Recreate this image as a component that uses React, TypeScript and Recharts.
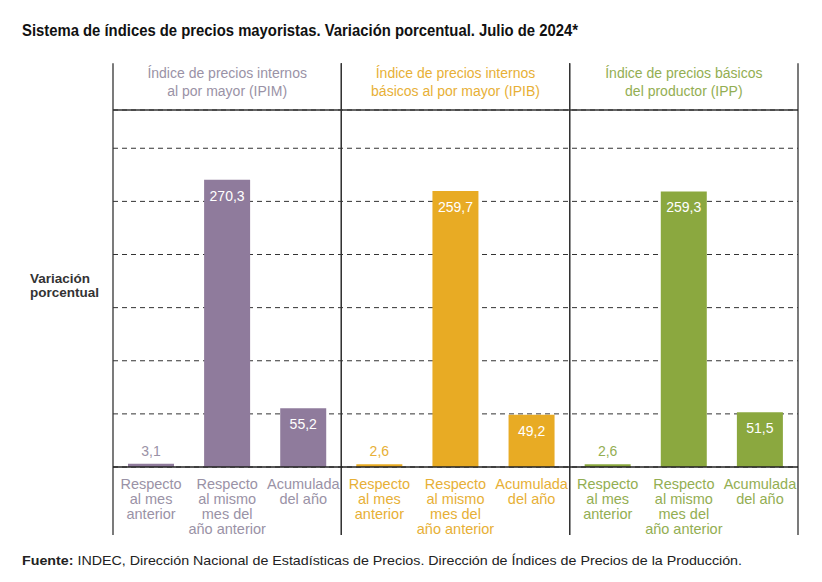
import { BarChart, Bar, XAxis, YAxis, CartesianGrid, Cell, LabelList, ReferenceLine, ReferenceArea } from 'recharts';

const PANELS = ['IPIM', 'IPIB', 'IPP'];
const PANEL_TITLES = [
  ['Índice de precios internos', 'al por mayor (IPIM)'],
  ['Índice de precios internos', 'básicos al por mayor (IPIB)'],
  ['Índice de precios básicos', 'del productor (IPP)'],
];
const MEASURES = [
  ['Respecto', 'al mes', 'anterior'],
  ['Respecto', 'al mismo', 'mes del', 'año anterior'],
  ['Acumulada', 'del año'],
];
const IPIM_VALUES = [3.1, 270.3, 55.2];
const IPIB_VALUES = [2.6, 259.7, 49.2];
const IPP_VALUES = [2.6, 259.3, 51.5];
const Y_TICKS = [0, 50, 100, 150, 200, 250, 300];

const BAR_COLORS = ['#8f7b9c', '#e8ab24', '#8ba83f'];
const TEXT_COLORS = ['#9a92a6', '#e7b036', '#93ae52'];
const FONT = "'Liberation Sans', Arial, Helvetica, sans-serif";

const SERIES = [IPIM_VALUES, IPIB_VALUES, IPP_VALUES];
const data = PANELS.flatMap((p, pi) =>
  SERIES[pi].map((v, mi) => ({ key: `${p}-${mi}`, panel: pi, measure: mi, value: v }))
);
const fmt = (v: number) => v.toFixed(1).replace('.', ',');

function MeasureTick({ x, y, payload }: any) {
  const row = data.find((d) => d.key === payload.value);
  if (!row) return null;
  return (
    <text x={x} y={y} textAnchor="middle" fill={TEXT_COLORS[row.panel]} fontFamily={FONT} fontSize={14.5}>
      {MEASURES[row.measure].map((line, i) => (
        <tspan key={i} x={x} y={y + 14 + i * 15}>{line}</tspan>
      ))}
    </text>
  );
}

function ValueLabel({ x, y, width, value, index }: any) {
  const row = data[index];
  const small = value < 20;
  return (
    <text
      x={x + width / 2}
      y={small ? y - 13 : y + 16}
      textAnchor="middle"
      dominantBaseline="central"
      fill={small ? TEXT_COLORS[row.panel] : '#ffffff'}
      fontFamily={FONT}
      fontSize={14}
    >
      {fmt(value)}
    </text>
  );
}

function PanelFrame({ x, y, width, height, idx }: any) {
  return (
    <g>
      <line x1={x} x2={x} y1={y} y2={y + height} stroke="#333" strokeWidth={1.3} />
      <line x1={x + width} x2={x + width} y1={y} y2={y + height} stroke="#333" strokeWidth={1.3} />
      <text textAnchor="middle" fill={TEXT_COLORS[idx]} fontFamily={FONT} fontSize={14}>
        {PANEL_TITLES[idx].map((line, i) => (
          <tspan key={i} x={x + width / 2} y={y + 15 + i * 18}>{line}</tspan>
        ))}
      </text>
    </g>
  );
}

export default function App() {
  return (
    <div style={{ position: 'absolute', left: 0, top: 0, width: 822, height: 582, background: '#fff' }}>
      <svg width={822} height={582} style={{ position: 'absolute', left: 0, top: 0 }}>
        <text x={22} y={35.5} fontFamily={FONT} fontWeight="bold" fontSize={16} fill="#111" textLength={556} lengthAdjust="spacingAndGlyphs">
          Sistema de índices de precios mayoristas. Variación porcentual. Julio de 2024*
        </text>
        <text x={22} y={565} fontFamily={FONT} fontSize={13} fill="#222" textLength={720} lengthAdjust="spacingAndGlyphs">
          <tspan fontWeight="bold">Fuente:</tspan> INDEC, Dirección Nacional de Estadísticas de Precios. Dirección de Índices de Precios de la Producción.
        </text>
        <text fontFamily={FONT} fontWeight="bold" fontSize={13.5} fill="#333">
          <tspan x={30} y={282.5}>Variación</tspan>
          <tspan x={30} y={297}>porcentual</tspan>
        </text>
      </svg>
      <div style={{ position: 'absolute', left: 0, top: 0 }}>
        <BarChart width={822} height={582} data={data} margin={{ top: 110, right: 24, bottom: 45, left: 113 }}>
          <CartesianGrid vertical={false} strokeDasharray="5 4" stroke="#333" />
          <XAxis dataKey="key" interval={0} tickLine={false} axisLine={false} height={70} tick={<MeasureTick />} />
          <YAxis hide domain={[0, 336]} ticks={Y_TICKS} allowDataOverflow />
          {PANELS.map((p, i) => (
            <ReferenceArea
              key={p}
              x1={`${p}-0`}
              x2={`${p}-2`}
              y1={-64}
              y2={380}
              ifOverflow="visible"
              shape={(props: any) => <PanelFrame {...props} idx={i} />}
            />
          ))}
          <ReferenceLine y={336} stroke="#333" strokeWidth={1.3} />
          <Bar dataKey="value" barSize={46} isAnimationActive={false}>
            {data.map((d) => (
              <Cell key={d.key} fill={BAR_COLORS[d.panel]} />
            ))}
            <LabelList dataKey="value" content={<ValueLabel />} />
          </Bar>
          <ReferenceLine y={0} stroke="#222" strokeWidth={1.6} />
        </BarChart>
      </div>
    </div>
  );
}
